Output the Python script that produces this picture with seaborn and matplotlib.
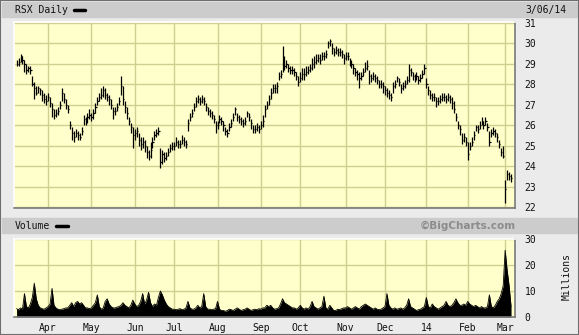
import numpy as np
import pandas as pd
import seaborn as sns
import matplotlib
matplotlib.use("Agg")
import matplotlib.pyplot as plt
from matplotlib.patches import Rectangle
from matplotlib.lines import Line2D

# US market holidays inside the window (no bars on these days)
HOLIDAYS = ["2013-03-29", "2013-05-27", "2013-07-04", "2013-09-02", "2013-11-28",
            "2013-12-25", "2014-01-01", "2014-01-20", "2014-02-17"]

# daily close / high / low (one line per month)
close = [
    29.0, 29.1, 29.4, 29.2, 29.0, 28.7, 28.8, 28.7, 28.0, 27.8, 27.6, 27.8, 27.7, 27.5, 27.3, 27.2,
    27.4, 27.1, 26.8, 26.5, 26.6, 26.7, 27.0, 27.6, 27.3, 27.0, 26.8, 26.0, 25.6, 25.4, 25.6, 25.5, 25.4, 25.7, 26.3, 26.2, 26.4, 26.5,
    26.4, 26.6, 26.9, 27.2, 27.4, 27.5, 27.7, 27.5, 27.4, 27.3, 27.0, 26.7, 26.7, 26.9, 27.2, 27.9, 27.3, 26.9, 26.6, 26.2, 25.9, 25.5,
    25.6, 25.7, 25.3, 25.1, 25.2, 25.0, 24.7, 24.5, 24.8, 25.2, 25.5, 25.6, 25.7, 24.2, 24.6, 24.4, 24.5, 24.7, 24.9, 25.0,
    25.0, 25.2, 25.1, 25.1, 25.3, 25.2, 25.1, 26.1, 26.4, 26.6, 26.9, 27.2, 27.3, 27.2, 27.3, 27.2, 26.9, 26.7, 26.6, 26.5, 26.3, 26.0,
    26.0, 26.3, 26.2, 26.0, 25.7, 25.6, 25.9, 26.1, 26.4, 26.8, 26.4, 26.3, 26.2, 26.1, 26.2, 26.6, 26.4, 26.1, 25.8, 25.8, 25.9, 25.8,
    26.0, 26.2, 26.8, 27.0, 27.3, 27.6, 27.8, 27.8, 27.9, 28.4, 28.5, 29.2, 28.9, 29.0, 28.8, 28.7, 28.7, 28.6, 28.4, 28.1,
    28.3, 28.5, 28.5, 28.6, 28.7, 28.8, 29.0, 29.1, 29.2, 29.3, 29.2, 29.4, 29.4, 29.5, 30.0, 30.1, 29.8, 29.6, 29.7, 29.6, 29.6, 29.5, 29.3,
    29.4, 29.4, 29.1, 29.0, 28.8, 28.6, 28.5, 28.3, 28.4, 28.6, 28.8, 28.9, 28.4, 28.3, 28.4, 28.3, 28.2, 28.0, 28.0, 27.9,
    27.7, 27.6, 27.5, 27.4, 27.9, 28.0, 28.3, 28.1, 27.8, 27.9, 28.0, 28.2, 28.7, 28.6, 28.4, 28.3, 28.4, 28.2, 28.3, 28.5, 28.8,
    28.0, 27.7, 27.5, 27.4, 27.4, 27.2, 27.2, 27.3, 27.4, 27.4, 27.3, 27.4, 27.3, 27.1, 26.8, 26.4, 26.0, 25.8, 25.3, 25.4, 25.2,
    24.6, 25.0, 25.2, 25.5, 25.9, 25.8, 26.0, 26.2, 26.0, 26.2, 25.9, 25.2, 25.6, 25.7, 25.6, 25.4, 25.1, 24.7, 24.5,
    22.9, 23.6, 23.5, 23.4,
]
high = [
    29.2, 29.3, 29.5, 29.4, 29.2, 29.0, 28.9, 28.9, 28.4, 28.1, 27.9, 27.9, 27.8, 27.7, 27.6, 27.5,
    27.6, 27.4, 27.1, 26.8, 26.8, 26.9, 27.2, 27.8, 27.6, 27.3, 27.0, 26.2, 25.9, 25.7, 25.8, 25.7, 25.6, 25.9, 26.5, 26.4, 26.6, 26.8,
    26.6, 26.8, 27.1, 27.4, 27.6, 27.8, 27.9, 27.8, 27.6, 27.5, 27.3, 26.9, 26.9, 27.1, 27.4, 28.4, 27.9, 27.2, 26.9, 26.4, 26.1, 25.9,
    25.8, 25.9, 25.6, 25.4, 25.4, 25.3, 25.0, 24.8, 25.2, 25.4, 25.7, 25.8, 25.9, 24.9, 24.8, 24.7, 24.7, 24.9, 25.1, 25.2,
    25.2, 25.4, 25.3, 25.3, 25.5, 25.4, 25.3, 26.3, 26.6, 26.8, 27.1, 27.4, 27.5, 27.4, 27.5, 27.4, 27.1, 26.9, 26.8, 26.7, 26.5, 26.2,
    26.2, 26.5, 26.4, 26.2, 25.9, 25.8, 26.1, 26.3, 26.6, 26.9, 26.6, 26.5, 26.4, 26.3, 26.4, 26.7, 26.6, 26.3, 26.0, 26.0, 26.1, 26.0,
    26.2, 26.5, 27.0, 27.2, 27.5, 27.8, 28.0, 28.0, 28.1, 28.6, 28.7, 29.9, 29.4, 29.2, 29.0, 28.9, 28.9, 28.8, 28.6, 28.4,
    28.6, 28.8, 28.8, 28.9, 28.9, 29.0, 29.3, 29.4, 29.5, 29.5, 29.5, 29.6, 29.6, 29.7, 30.1, 30.2, 30.0, 29.8, 29.9, 29.8, 29.8, 29.7, 29.5,
    29.6, 29.6, 29.3, 29.2, 29.0, 28.8, 28.7, 28.6, 28.6, 28.8, 29.1, 29.2, 28.7, 28.5, 28.6, 28.5, 28.4, 28.2, 28.2, 28.1,
    27.9, 27.8, 27.7, 27.6, 28.1, 28.2, 28.4, 28.3, 28.0, 28.1, 28.2, 28.4, 29.0, 28.8, 28.6, 28.5, 28.6, 28.4, 28.5, 28.7, 29.0,
    28.3, 27.9, 27.7, 27.6, 27.6, 27.4, 27.4, 27.5, 27.6, 27.6, 27.5, 27.6, 27.5, 27.4, 27.2, 26.6, 26.2, 26.0, 25.6, 25.6, 25.4,
    25.2, 25.2, 25.4, 25.7, 26.0, 26.0, 26.2, 26.4, 26.2, 26.4, 26.1, 25.7, 25.8, 25.9, 25.8, 25.6, 25.3, 24.9, 25.0,
    23.3, 23.8, 23.7, 23.6,
]
low = [
    28.9, 28.9, 29.1, 29.0, 28.6, 28.5, 28.6, 28.5, 27.9, 27.3, 27.5, 27.6, 27.5, 27.2, 27.1, 27.0,
    27.2, 26.9, 26.4, 26.3, 26.4, 26.5, 26.8, 27.2, 27.1, 26.8, 26.6, 25.8, 25.3, 25.2, 25.4, 25.3, 25.3, 25.5, 26.0, 26.0, 26.1, 26.3,
    26.2, 26.3, 26.6, 27.0, 27.2, 27.3, 27.4, 27.3, 27.2, 27.0, 26.8, 26.3, 26.5, 26.7, 27.0, 27.5, 27.0, 26.6, 26.3, 26.0, 25.6, 24.9,
    25.3, 25.4, 25.0, 24.8, 24.9, 24.7, 24.4, 24.3, 24.4, 24.9, 25.3, 25.4, 25.5, 23.9, 24.1, 24.2, 24.3, 24.5, 24.7, 24.8,
    24.8, 25.0, 24.9, 24.9, 25.1, 25.0, 24.9, 25.7, 26.2, 26.4, 26.7, 26.9, 27.1, 27.0, 27.1, 27.0, 26.7, 26.5, 26.4, 26.3, 26.1, 25.6,
    25.8, 26.1, 26.0, 25.7, 25.5, 25.4, 25.7, 25.9, 26.2, 26.5, 26.2, 26.1, 26.0, 25.9, 26.0, 26.4, 26.2, 25.8, 25.6, 25.6, 25.7, 25.6,
    25.8, 25.9, 26.4, 26.8, 27.0, 27.3, 27.6, 27.6, 27.6, 28.2, 28.3, 28.6, 28.7, 28.8, 28.6, 28.5, 28.5, 28.4, 28.2, 27.9,
    28.1, 28.2, 28.2, 28.4, 28.5, 28.6, 28.7, 28.8, 29.0, 29.1, 29.0, 29.2, 29.2, 29.3, 29.8, 29.9, 29.5, 29.4, 29.5, 29.4, 29.4, 29.3, 29.0,
    29.2, 29.2, 28.9, 28.8, 28.5, 28.4, 28.2, 27.8, 28.2, 28.4, 28.6, 28.7, 28.0, 28.1, 28.2, 28.1, 28.0, 27.8, 27.8, 27.6,
    27.5, 27.4, 27.3, 27.2, 27.6, 27.8, 28.1, 27.9, 27.6, 27.7, 27.8, 28.0, 28.1, 28.4, 28.2, 28.1, 28.2, 28.0, 28.1, 28.3, 28.5,
    27.8, 27.5, 27.3, 27.2, 27.2, 26.9, 27.0, 27.1, 27.2, 27.2, 27.1, 27.2, 27.1, 26.8, 26.6, 26.2, 25.8, 25.5, 25.1, 25.2, 25.0,
    24.3, 24.8, 25.0, 25.3, 25.7, 25.6, 25.8, 26.0, 25.8, 26.0, 25.7, 25.0, 25.4, 25.5, 25.4, 25.2, 24.9, 24.5, 24.4,
    22.2, 23.3, 23.3, 23.2,
]
# daily volume, millions of shares
volume = [
    3.2, 2.8, 3.5, 3.0, 9.0, 4.0, 3.5, 5.0, 7.5, 13.0, 7.0, 4.5, 3.5, 3.2, 3.0, 3.5,
    4.0, 5.0, 11.0, 4.5, 3.5, 3.0, 2.8, 3.0, 3.2, 3.5, 3.5, 4.5, 5.5, 4.0, 5.5, 6.0, 5.0, 5.5, 4.5, 3.5, 3.5, 3.2,
    3.5, 4.5, 5.5, 8.5, 4.0, 3.0, 3.5, 6.0, 7.0, 5.0, 4.0, 3.5, 3.5, 3.8, 4.0, 4.5, 5.5, 4.5, 4.0, 3.5, 4.5, 6.5,
    5.0, 4.0, 4.5, 6.0, 9.0, 5.0, 6.5, 9.5, 5.5, 4.0, 5.0, 4.5, 7.5, 10.0, 8.5, 6.5, 5.0, 4.0, 3.5, 3.0,
    3.0, 2.8, 3.0, 3.2, 2.8, 3.0, 3.5, 6.0, 3.5, 3.0, 3.0, 3.5, 4.5, 3.5, 4.0, 9.0, 4.0, 3.0, 3.0, 2.8, 3.0, 3.2,
    6.0, 3.0, 2.5, 2.5, 2.2, 2.5, 3.0, 2.8, 2.5, 3.0, 3.5, 3.0, 2.5, 2.8, 3.0, 3.5, 3.0, 2.5, 2.8, 3.0, 2.8, 3.2,
    3.0, 3.5, 3.5, 4.5, 4.0, 4.5, 3.5, 3.0, 3.2, 3.5, 5.0, 7.0, 5.5, 5.0, 4.5, 4.0, 3.5, 3.5, 3.0, 3.5,
    4.5, 3.5, 3.0, 3.5, 3.0, 4.0, 6.0, 4.0, 3.5, 3.0, 3.5, 4.0, 8.0, 3.5, 3.0, 4.5, 3.5, 2.5, 2.5, 3.0, 2.8, 3.2, 3.5,
    3.5, 4.0, 3.5, 3.0, 3.5, 4.0, 3.5, 3.0, 4.0, 4.5, 5.0, 4.5, 4.0, 3.5, 3.0, 3.5, 3.0, 2.8, 3.0, 3.5,
    4.0, 9.0, 4.5, 3.5, 3.0, 3.5, 3.0, 3.2, 3.5, 3.0, 3.5, 4.5, 7.0, 4.0, 3.5, 3.0, 2.5, 2.8, 3.0, 3.5, 4.0,
    7.5, 4.0, 3.5, 5.0, 4.0, 3.5, 3.0, 3.5, 4.0, 4.5, 6.0, 4.5, 4.0, 4.5, 5.5, 7.0, 5.5, 4.5, 4.5, 5.0, 4.5,
    6.0, 5.0, 4.5, 4.0, 4.5, 4.0, 3.5, 4.0, 3.5, 3.5, 4.0, 8.5, 4.0, 3.5, 4.5, 6.0, 7.0, 9.0, 12.0,
    25.7, 18.0, 12.0, 4.0,
]

price_ticks = [22, 23, 24, 25, 26, 27, 28, 29, 30, 31]
vol_ticks = [0, 10, 20, 30]

PLOT_BG = "#FFFFCC"
GRID = "#CFCF90"
PANEL = "#EBEBEB"
BAND = "#CCCCCC"
W, H = 579, 335


def build_frame():
    days = pd.bdate_range("2013-03-07", "2014-03-06")
    days = days[~days.isin(pd.to_datetime(HOLIDAYS))]
    df = pd.DataFrame({"date": days, "close": close, "high": high,
                       "low": low, "volume": volume})
    df["i"] = np.arange(len(df))
    return df


def month_ticks(df):
    first = df.groupby(df["date"].dt.to_period("M"))["i"].min().iloc[1:]
    labels = ["14" if p.month == 1 else p.strftime("%b") for p in first.index]
    return first.values, labels


def box(x0, y0, x1, y1):
    # pixel box (top-left origin) -> figure fraction rect
    return [x0 / W, 1 - y1 / H, (x1 - x0) / W, (y1 - y0) / H]


def style_axes(ax):
    ax.set_facecolor(PLOT_BG)
    for side in ["top", "left"]:
        ax.spines[side].set_color("#FFFFFF")
    for side in ["bottom", "right"]:
        ax.spines[side].set_color("#7A7A7A")
    for s in ax.spines.values():
        s.set_linewidth(1.2)
    ax.grid(True, color=GRID, lw=1.0)
    ax.set_axisbelow(True)
    ax.yaxis.tick_right()
    ax.tick_params(axis="both", length=0, labelsize=7, colors="#111111")
    ax.set_xlabel("")
    ax.set_ylabel("")


def plot_chart(df, save_path):
    sns.set_style("white")
    plt.rcParams["font.family"] = ["DejaVu Sans Mono"]

    fig = plt.figure(figsize=(W / 100, H / 100), dpi=100, facecolor=PANEL)
    fig.add_artist(Rectangle((0, 0), 1, 1, transform=fig.transFigure,
                             fill=False, ec="#6E6E6E", lw=1.5))
    fig.add_artist(Rectangle((2 / W, 1 - 17 / H), 575 / W, 15 / H,
                             transform=fig.transFigure, color=BAND, zorder=0))
    fig.add_artist(Rectangle((2 / W, 1 - 233 / H), 575 / W, 15 / H,
                             transform=fig.transFigure, color=BAND, zorder=0))

    ticks, labels = month_ticks(df)
    xlim = (-1.3, 253.0)

    # price panel
    ax = fig.add_axes(box(14, 22, 515, 208))
    style_axes(ax)
    ax.vlines(df["i"], df["low"], df["high"], color="black", lw=0.9)
    ax.hlines(df["close"], df["i"], df["i"] + 0.6, color="black", lw=0.9)
    ax.set_xlim(*xlim)
    ax.set_ylim(21.95, 31.05)
    ax.set_xticks(ticks)
    ax.set_xticklabels([])
    ax.set_yticks(price_ticks)
    ax.tick_params(axis="y", pad=7)

    # volume panel
    axv = fig.add_axes(box(14, 239, 515, 317))
    style_axes(axv)
    axv.fill_between(df["i"], df["volume"], color="black", lw=0)
    sns.lineplot(data=df, x="i", y="volume", ax=axv, color="black", lw=0.6)
    axv.set_xlim(*xlim)
    axv.set_ylim(0, 30)
    axv.set_xticks(ticks)
    axv.set_xticklabels(labels)
    axv.set_yticks(vol_ticks)
    axv.tick_params(axis="y", pad=7)
    axv.tick_params(axis="x", pad=4)
    axv.set_xlabel("")
    axv.set_ylabel("")

    # header texts
    fig.text(15 / W, 1 - 10 / H, "RSX Daily", fontsize=7, va="center", color="#111111")
    fig.add_artist(Line2D([74 / W, 85 / W], [1 - 9.5 / H] * 2, color="black",
                          lw=2.5, transform=fig.transFigure))
    fig.text(566 / W, 1 - 10 / H, "3/06/14", fontsize=7, va="center", ha="right",
             color="#111111")
    fig.text(15 / W, 1 - 226 / H, "Volume", fontsize=7, va="center", color="#111111")
    fig.add_artist(Line2D([56 / W, 68 / W], [1 - 225.5 / H] * 2, color="black",
                          lw=2.5, transform=fig.transFigure))
    fig.text(516 / W, 1 - 226 / H, "\u00a9BigCharts.com", fontsize=7.5, va="center",
             ha="right", color="#8C8C8C", fontweight="bold", family=["DejaVu Sans"])
    fig.text(567 / W, 1 - 276 / H, "Millions", fontsize=7, rotation=90,
             va="center", ha="center", color="#111111")

    fig.savefig(save_path, dpi=100, facecolor=fig.get_facecolor())
    plt.close(fig)


if __name__ == "__main__":
    data = build_frame()
    plot_chart(data, "out.png")
